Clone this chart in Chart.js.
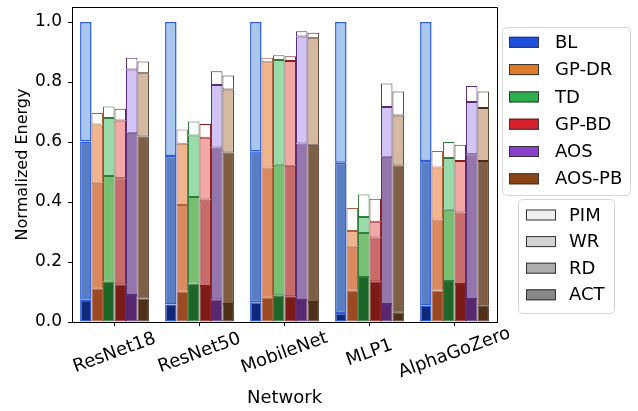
<!DOCTYPE html>
<html>
<head>
<meta charset="utf-8">
<script src="https://cdn.jsdelivr.net/npm/chart.js@4.4.1/dist/chart.umd.min.js"></script>
<style>
  html, body { margin: 0; padding: 0; background: #fff; }
  #wrap { width: 638px; height: 411px; }
</style>
</head>
<body>
<div id="wrap"><canvas id="myChart" width="638" height="411"></canvas></div>
<script>
const networks = ['ResNet18', 'ResNet50', 'MobileNet', 'MLP1', 'AlphaGoZero'];
const configs = ['BL', 'GP-DR', 'TD', 'GP-BD', 'AOS', 'AOS-PB'];
const parts = ['ACT', 'RD', 'WR', 'PIM'];
const yTicks = [0, 0.2, 0.4, 0.6, 0.8, 1.0];

// energy of each part, per config, one value per network
const act = {
  'BL':     [0.074, 0.058, 0.066, 0.030, 0.055],
  'GP-DR':  [0.111, 0.101, 0.081, 0.104, 0.105],
  'TD':     [0.134, 0.128, 0.089, 0.150, 0.137],
  'GP-BD':  [0.126, 0.120, 0.086, 0.136, 0.127],
  'AOS':    [0.090, 0.076, 0.073, 0.060, 0.077],
  'AOS-PB': [0.078, 0.060, 0.067, 0.031, 0.056]
};
const rd = {
  'BL':     [0.528, 0.495, 0.503, 0.501, 0.482],
  'GP-DR':  [0.353, 0.289, 0.434, 0.147, 0.237],
  'TD':     [0.353, 0.289, 0.435, 0.147, 0.237],
  'GP-BD':  [0.353, 0.288, 0.435, 0.146, 0.238],
  'AOS':    [0.541, 0.506, 0.522, 0.491, 0.482],
  'AOS-PB': [0.540, 0.505, 0.524, 0.491, 0.481]
};
const wr = {
  'BL':     [0.398, 0.447, 0.431, 0.469, 0.463],
  'GP-DR':  [0.194, 0.204, 0.351, 0.052, 0.173],
  'TD':     [0.193, 0.205, 0.349, 0.053, 0.173],
  'GP-BD':  [0.193, 0.206, 0.349, 0.052, 0.172],
  'AOS':    [0.211, 0.208, 0.357, 0.166, 0.174],
  'AOS-PB': [0.211, 0.210, 0.355, 0.166, 0.176]
};
const pim = {
  'BL':     [0, 0, 0, 0, 0],
  'GP-DR':  [0.039, 0.048, 0.015, 0.077, 0.055],
  'TD':     [0.038, 0.046, 0.016, 0.075, 0.053],
  'GP-BD':  [0.039, 0.046, 0.016, 0.077, 0.054],
  'AOS':    [0.039, 0.046, 0.017, 0.078, 0.054],
  'AOS-PB': [0.039, 0.047, 0.018, 0.080, 0.055]
};

const shades = {
  'BL':     { ACT: '#0f2878', RD: '#5a7ec2', WR: '#a9c7ee', edge: '#2b5ce0', key: '#2050e0' },
  'GP-DR':  { ACT: '#9b4a23', RD: '#db8a5f', WR: '#f0b48f', edge: '#b0603a', key: '#e07b28' },
  'TD':     { ACT: '#1e6528', RD: '#78bf72', WR: '#99dbaa', edge: '#2e7d3a', key: '#2db04b' },
  'GP-BD':  { ACT: '#7c1a17', RD: '#c86b6b', WR: '#f2a8a4', edge: '#8b1c1c', key: '#d6202a' },
  'AOS':    { ACT: '#57276f', RD: '#9475ac', WR: '#d1c4f4', edge: '#5b2c7a', key: '#8a40cc' },
  'AOS-PB': { ACT: '#4e3019', RD: '#7e5f45', WR: '#d5b9a1', edge: '#4a2e1a', key: '#8b4513' }
};
const partKeys = { PIM: '#f0f0f0', WR: '#d3d3d3', RD: '#adadad', ACT: '#878787' };

const FONT = "'DejaVu Sans', sans-serif";

function buildDatasets() {
  const src = { ACT: act, RD: rd, WR: wr, PIM: pim };
  let ds = [];
  configs.forEach(function (c) {
    parts.forEach(function (p) {
      ds.push({
        label: c + ' ' + p,
        stack: c,
        data: src[p][c],
        backgroundColor: p === 'PIM' ? '#ffffff' : shades[c][p],
        borderColor: shades[c].edge,
        borderWidth: c === 'BL' ? 1.5 : 1,
        borderSkipped: false
      });
    });
  });
  return ds;
}

// spines, centred rotated tick labels, and the two legend boxes
const extras = {
  id: 'extras',
  afterDraw(chart) {
    const ctx = chart.ctx;
    const a = chart.chartArea;
    const xs = chart.scales.x;
    ctx.save();
    ctx.strokeStyle = '#000';
    ctx.lineWidth = 1;
    ctx.beginPath();
    ctx.moveTo(a.left, a.top + 0.5);
    ctx.lineTo(a.right + 0.5, a.top + 0.5);
    ctx.lineTo(a.right + 0.5, a.bottom);
    ctx.stroke();

    ctx.fillStyle = '#000';
    ctx.font = '18px ' + FONT;
    ctx.textAlign = 'center';
    ctx.textBaseline = 'middle';
    networks.forEach(function (n, i) {
      ctx.save();
      ctx.translate(xs.getPixelForValue(i), a.bottom + 31);
      ctx.rotate(-20 * Math.PI / 180);
      ctx.fillText(n, 0, 0);
      ctx.restore();
    });

    function box(x, y, w, h) {
      ctx.beginPath();
      ctx.roundRect(x, y, w, h, 4);
      ctx.fillStyle = 'rgba(255,255,255,0.8)';
      ctx.fill();
      ctx.strokeStyle = '#d6d6d6';
      ctx.stroke();
    }
    function entry(x, y, color, text, tx) {
      ctx.fillStyle = color;
      ctx.fillRect(x, y - 5.5, 30, 11);
      ctx.strokeStyle = '#333';
      ctx.strokeRect(x + 0.5, y - 5, 29, 10);
      ctx.fillStyle = '#000';
      ctx.textAlign = 'left';
      ctx.fillText(text, tx, y + 1);
    }
    box(502.5, 27.5, 128, 168);
    configs.forEach(function (c, i) {
      entry(509, 42.3 + i * 27.3, shades[c].key, c, 555);
    });
    box(518.5, 199.5, 96, 114);
    ['PIM', 'WR', 'RD', 'ACT'].forEach(function (p, i) {
      entry(526, 215 + i * 26.6, partKeys[p], p, 569);
    });
    ctx.restore();
  }
};

const ctx = document.getElementById('myChart');
new Chart(ctx, {
  type: 'bar',
  data: { labels: networks, datasets: buildDatasets() },
  options: {
    responsive: false,
    animation: false,
    layout: { padding: { top: 7, right: 141, left: 0, bottom: 0 } },
    datasets: { bar: { categoryPercentage: 0.81, barPercentage: 1.0 } },
    plugins: { legend: { display: false }, tooltip: { enabled: false } },
    scales: {
      x: {
        stacked: true,
        afterFit: function (s) { s.height = 89; s.paddingLeft = 0; s.paddingRight = 0; },
        grid: { drawOnChartArea: false, drawTicks: true, tickLength: 4, color: '#000', offset: false },
        border: { color: '#000', width: 1 },
        ticks: { color: 'rgba(0,0,0,0)', autoSkip: false, maxRotation: 0, font: { family: FONT, size: 10 } },
        title: { display: true, text: 'Network', color: '#000', font: { family: FONT, size: 18 }, padding: { top: 0, bottom: 2 } }
      },
      y: {
        stacked: true,
        min: 0,
        max: 1.05,
        afterFit: function (s) { s.width = 72; s.paddingTop = 0; s.paddingBottom = 0; },
        afterBuildTicks: function (s) { s.ticks = yTicks.map(function (v) { return { value: v }; }); },
        grid: { drawOnChartArea: false, drawTicks: true, tickLength: 4, color: '#000' },
        border: { color: '#000', width: 1 },
        ticks: {
          color: '#000', padding: 6, font: { family: FONT, size: 17 },
          callback: function (v) { return Number(v).toFixed(1); }
        },
        title: { display: true, text: 'Normalized Energy', color: '#000', font: { family: FONT, size: 16 }, padding: { top: 13, bottom: 0 } }
      }
    }
  },
  plugins: [extras]
});
</script>
</body>
</html>
